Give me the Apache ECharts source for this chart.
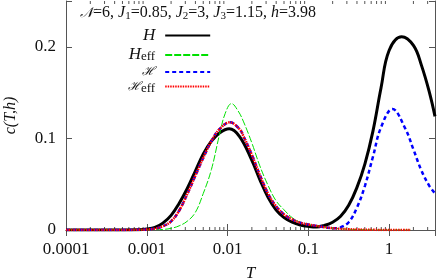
<!DOCTYPE html>
<html><head><meta charset="utf-8">
<script src="https://cdn.jsdelivr.net/npm/echarts@6/dist/echarts.min.js"></script>
<style>html,body{margin:0;padding:0;background:#fff}#c{width:437px;height:279px}</style>
</head><body><div id="c"></div>
<script>
// H
const tH  = [0.0001,0.0003,0.0008,0.001,0.00126,0.00158,0.002,0.00251,0.00316,0.00398,0.00501,0.00631,0.00794,0.0105,0.0141,0.02,0.0251,0.0316,0.0398,0.0501,0.0631,0.0794,0.1,0.126,0.158,0.2,0.251,0.316,0.398,0.501,0.631,0.794,1.0,1.43,2.0,2.51,3.16,3.7];
const cH  = [0,0,0.0003,0.001,0.0028,0.0075,0.016,0.029,0.045,0.064,0.083,0.097,0.106,0.1105,0.102,0.076,0.055,0.036,0.022,0.0135,0.0085,0.0055,0.004,0.0033,0.005,0.0085,0.015,0.027,0.046,0.072,0.108,0.155,0.196,0.211,0.2015,0.180,0.150,0.124];
// H_eff
const tHeff = [0.0001,0.0003,0.001,0.00126,0.00158,0.002,0.00251,0.00316,0.00398,0.00501,0.00631,0.00794,0.00933,0.0112,0.0135,0.0158,0.02,0.0251,0.0316,0.0398,0.0501,0.0631,0.0794,0.1,0.126,0.158,0.2,0.251,0.316,0.398,0.631,1.0,1.86];
const cHeff = [0,0,0,0.0002,0.0006,0.0018,0.0045,0.0095,0.019,0.040,0.066,0.104,0.127,0.138,0.130,0.118,0.095,0.070,0.049,0.032,0.022,0.0135,0.0085,0.0062,0.0046,0.003,0.002,0.0013,0.0008,0.0005,0.0002,0,0];
// script H
const tSH = [0.0001,0.0003,0.0008,0.001,0.00126,0.00158,0.002,0.00251,0.00316,0.00398,0.00501,0.00631,0.00794,0.0107,0.0141,0.0158,0.02,0.0251,0.0316,0.0398,0.0501,0.0631,0.0794,0.1,0.126,0.158,0.2,0.224,0.251,0.316,0.398,0.501,0.631,0.794,1.1,1.58,2.0,2.51,3.16,3.7];
const cSH = [0,0,0.0002,0.0005,0.0015,0.004,0.0095,0.021,0.039,0.059,0.079,0.097,0.110,0.1175,0.110,0.102,0.082,0.060,0.040,0.026,0.017,0.0115,0.008,0.006,0.0045,0.003,0.002,0.0018,0.0028,0.0085,0.024,0.048,0.080,0.112,0.132,0.111,0.088,0.065,0.048,0.040];
// script H_eff
const tSHeff = [0.0001,0.0003,0.0008,0.001,0.00126,0.00158,0.002,0.00251,0.00316,0.00398,0.00501,0.00631,0.00794,0.0107,0.0141,0.0158,0.02,0.0251,0.0316,0.0398,0.0501,0.0631,0.0794,0.1,0.126,0.158,0.2,0.251,0.316,0.398,0.631,1.0,1.86];
const cSHeff = [0,0,0.0002,0.0005,0.0015,0.004,0.0095,0.021,0.039,0.059,0.079,0.097,0.110,0.1175,0.110,0.102,0.082,0.060,0.040,0.026,0.017,0.0115,0.008,0.006,0.0045,0.003,0.002,0.0013,0.0008,0.0005,0.0002,0,0];
const xTicks = [0.0001,0.001,0.01,0.1,1];
const yTicks = [0,0.1,0.2];

const pairs = (t,c) => t.map((v,i)=>[v,c[i]]);
const FONT = 'Liberation Serif';
const axisCol = '#555';
const TXT = '#111';

const chart = echarts.init(document.getElementById('c'), null, {renderer:'canvas'});
const xBase = {type:'log', logBase:10, min:0.0001, max:3.7,
  axisLine:{show:true, lineStyle:{color:axisCol, width:1}},
  axisTick:{show:true, inside:true, length:6, lineStyle:{color:axisCol}},
  splitLine:{show:false}, minorTick:{show:false}};
const yBase = {type:'value', min:0, max:0.25, interval:0.1,
  axisLine:{show:true, lineStyle:{color:axisCol, width:1}},
  axisTick:{show:true, inside:true, length:6, lineStyle:{color:axisCol}},
  splitLine:{show:false}};
const lbl = {fontFamily:FONT, fontSize:17, color:TXT};

chart.setOption({
  animation:false,
  grid:{left:66, right:2, top:1, bottom:49, outerBoundsMode:'none', containLabel:false},
  title:{
    left:80, top:4, padding:0,
    text:'{s|𝒩}{n|=6, }{i|J}{b|1}{n|=0.85, }{i|J}{b|2}{n|=3, }{i|J}{b|3}{n|=1.15, }{i|h}{n|=3.98}',
    textStyle:{fontWeight:'normal', rich:{
      s:{fontFamily:FONT, fontSize:14, fontStyle:'italic', fontWeight:'normal', color:TXT, lineHeight:18},
      n:{fontFamily:FONT, fontSize:16, fontWeight:'normal', color:TXT, lineHeight:18},
      i:{fontFamily:FONT, fontSize:16, fontStyle:'italic', fontWeight:'normal', color:TXT, lineHeight:18},
      b:{fontFamily:FONT, fontSize:11, fontWeight:'normal', color:TXT, lineHeight:8, verticalAlign:'bottom'}
    }}
  },
  legend:{
    orient:'vertical', align:'right', left:128, top:27, padding:0,
    itemWidth:45, itemHeight:12, itemGap:2.5,
    itemStyle:{opacity:0},
    data:['H','Heff','SH','SHeff'],
    formatter: n => ({H:'{i|H}{g|}', Heff:'{i|H}{b|eff}{g|}', SH:'{s|ℋ}{g|}', SHeff:'{s|ℋ}{b|eff}{g|}'})[n],
    textStyle:{rich:{
      i:{fontFamily:FONT, fontSize:17, fontStyle:'italic', color:TXT, lineHeight:17},
      s:{fontFamily:FONT, fontSize:12, fontStyle:'italic', color:TXT, lineHeight:17},
      b:{fontFamily:FONT, fontSize:13, color:TXT, lineHeight:8, verticalAlign:'bottom'},
      g:{width:5, lineHeight:17}
    }}
  },
  xAxis:[
    Object.assign({}, xBase, {position:'bottom',
      axisLabel:{show:true, margin:11, showMaxLabel:false, formatter:v=>String(v), ...lbl},
      name:'T', nameLocation:'middle', nameGap:35,
      nameTextStyle:{fontFamily:FONT, fontSize:17, fontStyle:'italic', color:TXT}}),
    Object.assign({}, xBase, {position:'top', axisLabel:{show:false}})
  ],
  yAxis:[
    Object.assign({}, yBase, {position:'left',
      axisLabel:{show:true, margin:10, formatter:v=>(v>0.21?'':String(+v.toFixed(2))), ...lbl},
      name:'c(T,h)', nameLocation:'middle', nameGap:47, nameRotate:90,
      nameTextStyle:{fontFamily:FONT, fontSize:16, fontStyle:'italic', color:TXT}}),
    Object.assign({}, yBase, {position:'right', axisLabel:{show:false}})
  ],
  series:[
    {name:'H', type:'line', data:pairs(tH,cH), showSymbol:false, symbol:'none', smooth:0.4,
      lineStyle:{color:'#000', width:3}, itemStyle:{color:'#000'}, z:2},
    {name:'Heff', type:'line', data:pairs(tHeff,cHeff), showSymbol:false, symbol:'none', smooth:0.4,
      lineStyle:{color:'#00e000', width:1, type:[7,2]}, itemStyle:{color:'#00e000'}, z:3},
    {name:'SH', type:'line', data:pairs(tSH,cSH), showSymbol:false, symbol:'none', smooth:0.4,
      lineStyle:{color:'#0000ff', width:2.5, type:[4,3]}, itemStyle:{color:'#0000ff'}, z:4},
    {name:'SHeff', type:'line', data:pairs(tSHeff,cSHeff), showSymbol:false, symbol:'none', smooth:0.4,
      lineStyle:{color:'#ff0000', width:2.5, type:[1.5,1]}, itemStyle:{color:'#ff0000'}, z:5}
  ]
});

// minor log ticks (bottom and top)
const minor = [];
for (let d=-4; d<=0; d++) for (let k=2; k<=9; k++) {
  const t = k*Math.pow(10,d);
  if (t>3.7) continue;
  const xb = chart.convertToPixel({xAxisIndex:0}, t);
  const y0 = chart.convertToPixel({yAxisIndex:0}, 0);
  const y1 = chart.convertToPixel({yAxisIndex:0}, 0.25);
  minor.push({type:'line', shape:{x1:xb,y1:y0,x2:xb,y2:y0-3}, style:{stroke:axisCol, lineWidth:1}, silent:true});
  minor.push({type:'line', shape:{x1:xb,y1:y1,x2:xb,y2:y1+3}, style:{stroke:axisCol, lineWidth:1}, silent:true});
}
chart.setOption({graphic:minor});
</script></body></html>
